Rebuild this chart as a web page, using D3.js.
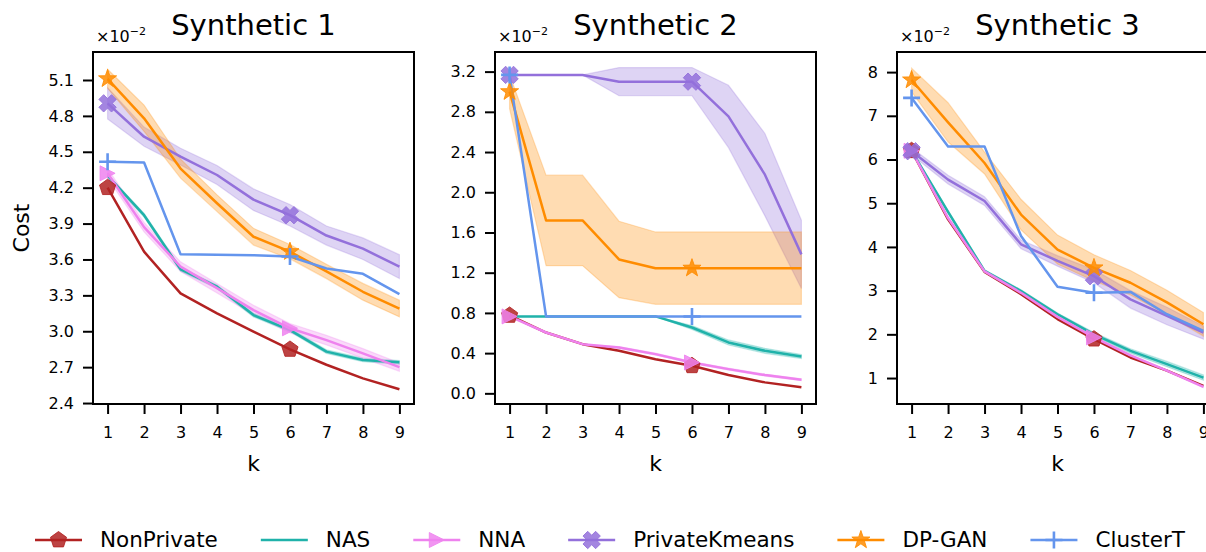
<!DOCTYPE html>
<html><head><meta charset="utf-8">
<script src="https://cdn.jsdelivr.net/npm/d3@7"></script>
<style>body{margin:0;background:#fff} svg{display:block;font-family:"DejaVu Sans",sans-serif}</style>
</head><body><svg id="chart" width="1206" height="552"></svg>
<script>
// ---------- data ----------
const kValues = [1,2,3,4,5,6,7,8,9];
const panelTitles = ["Synthetic 1","Synthetic 2","Synthetic 3"];
const seriesNames = ["NonPrivate","NAS","NNA","PrivateKmeans","DP-GAN","ClusterT"];
const markerIndices = [0,5];

// Synthetic 1 (x1e-2)
const syn1_NonPrivate    = [4.20,3.665,3.316,3.15,2.996,2.848,2.72,2.606,2.515];
const syn1_NAS           = [4.30,3.97,3.517,3.372,3.135,3.01,2.83,2.76,2.74];
const syn1_NNA           = [4.32,3.87,3.54,3.36,3.177,3.025,2.926,2.815,2.70];
const syn1_PrivateKmeans = [4.905,4.626,4.459,4.306,4.10,3.97,3.80,3.69,3.54];
const syn1_DPGAN         = [5.11,4.78,4.36,4.07,3.79,3.665,3.50,3.33,3.19];
const syn1_ClusterT      = [4.417,4.41,3.643,3.64,3.635,3.625,3.525,3.48,3.31];
const syn1_NAS_err           = [0.01,0.015,0.015,0.015,0.015,0.015,0.015,0.015,0.015];
const syn1_NNA_err           = [0.04,0.04,0.04,0.04,0.04,0.04,0.04,0.04,0.035];
const syn1_PrivateKmeans_err = [0.13,0.08,0.07,0.08,0.09,0.09,0.08,0.09,0.10];
const syn1_DPGAN_err         = [0.08,0.11,0.08,0.07,0.07,0.06,0.06,0.07,0.07];

// Synthetic 2 (x1e-2)
const syn2_NonPrivate    = [0.775,0.605,0.489,0.423,0.34,0.274,0.182,0.109,0.06];
const syn2_NAS           = [0.765,0.765,0.765,0.765,0.765,0.655,0.506,0.423,0.367];
const syn2_NNA           = [0.765,0.605,0.489,0.456,0.39,0.307,0.241,0.182,0.136];
const syn2_PrivateKmeans = [3.167,3.167,3.167,3.10,3.10,3.10,2.754,2.175,1.382];
const syn2_DPGAN         = [3.0,1.72,1.72,1.332,1.245,1.245,1.245,1.245,1.245];
const syn2_ClusterT      = [3.167,0.765,0.765,0.765,0.765,0.765,0.765,0.765,0.765];
const syn2_NAS_err           = [0,0,0,0,0,0.02,0.025,0.025,0.02];
const syn2_NNA_err           = [0,0,0,0.01,0.01,0.01,0.01,0.01,0.01];
const syn2_PrivateKmeans_err = [0,0,0,0.14,0.14,0.14,0.31,0.41,0.34];
const syn2_DPGAN_err         = [0.17,0.45,0.45,0.38,0.36,0.36,0.36,0.36,0.36];

// Synthetic 3 (x1e-2)
const syn3_NonPrivate    = [6.2,4.63,3.43,2.92,2.35,1.89,1.47,1.17,0.82];
const syn3_NAS           = [6.2,4.8,3.45,2.99,2.46,2.0,1.62,1.32,1.01];
const syn3_NNA           = [6.2,4.66,3.44,2.95,2.40,1.93,1.52,1.17,0.80];
const syn3_PrivateKmeans = [6.19,5.54,5.05,4.06,3.68,3.33,2.80,2.42,2.04];
const syn3_DPGAN         = [7.82,6.85,5.92,4.74,3.94,3.52,3.18,2.73,2.23];
const syn3_ClusterT      = [7.41,6.30,6.30,4.25,3.09,2.95,2.97,2.46,2.08];
const syn3_NAS_err           = [0,0.03,0.03,0.03,0.03,0.04,0.05,0.06,0.06];
const syn3_NNA_err           = [0,0.02,0.02,0.02,0.02,0.02,0.02,0.02,0.02];
const syn3_PrivateKmeans_err = [0.08,0.10,0.10,0.10,0.12,0.15,0.20,0.20,0.15];
const syn3_DPGAN_err         = [0.27,0.45,0.25,0.35,0.33,0.30,0.28,0.28,0.27];

const syn1_ticks = [2.4,2.7,3.0,3.3,3.6,3.9,4.2,4.5,4.8,5.1];
const syn2_ticks = [0.0,0.4,0.8,1.2,1.6,2.0,2.4,2.8,3.2];
const syn3_ticks = [1,2,3,4,5,6,7,8];
const offsetLabel = ["×10","−2"];

// ---------- styles ----------
const seriesStyle = {
  "NonPrivate":    {color:"#b22222", marker:"pentagon"},
  "NAS":           {color:"#20b2aa", marker:null},
  "NNA":           {color:"#ee82ee", marker:"triright"},
  "PrivateKmeans": {color:"#9370db", marker:"xfilled"},
  "DP-GAN":        {color:"#ff8c00", marker:"star"},
  "ClusterT":      {color:"#6495ed", marker:"plus"}
};

const panels = [
  {title:panelTitles[0], left:93, domain:[2.392,5.334], ticks:syn1_ticks, fmt:d3.format(".1f"),
   vals:[syn1_NonPrivate,syn1_NAS,syn1_NNA,syn1_PrivateKmeans,syn1_DPGAN,syn1_ClusterT],
   errs:[null,syn1_NAS_err,syn1_NNA_err,syn1_PrivateKmeans_err,syn1_DPGAN_err,null]},
  {title:panelTitles[1], left:495, domain:[-0.106,3.395], ticks:syn2_ticks, fmt:d3.format(".1f"),
   vals:[syn2_NonPrivate,syn2_NAS,syn2_NNA,syn2_PrivateKmeans,syn2_DPGAN,syn2_ClusterT],
   errs:[null,syn2_NAS_err,syn2_NNA_err,syn2_PrivateKmeans_err,syn2_DPGAN_err,null]},
  {title:panelTitles[2], left:897, domain:[0.406,8.46], ticks:syn3_ticks, fmt:d3.format("d"),
   vals:[syn3_NonPrivate,syn3_NAS,syn3_NNA,syn3_PrivateKmeans,syn3_DPGAN,syn3_ClusterT],
   errs:[null,syn3_NAS_err,syn3_NNA_err,syn3_PrivateKmeans_err,syn3_DPGAN_err,null]}
];

const PW = 321, TOP = 52, BOTTOM = 404;
const svg = d3.select("#chart");

function shapeD(type){
  const poly = pts => "M"+pts.map(p=>p[0].toFixed(2)+","+p[1].toFixed(2)).join("L")+"Z";
  if(type==="pentagon"){const r=8.5;return poly(d3.range(5).map(i=>{const a=(-90+72*i)*Math.PI/180;return [r*Math.cos(a),r*Math.sin(a)];}));}
  if(type==="triright"){const r=7.5;return poly([[r,0],[-r,-r],[-r,r]]);}
  if(type==="star"){const R=9.5,ri=3.8;return poly(d3.range(10).map(i=>{const a=(-90+36*i)*Math.PI/180;const rr=i%2?ri:R;return [rr*Math.cos(a),rr*Math.sin(a)];}));}
  if(type==="xfilled"){const r=8.5,w=3.2;const base=[[w,w],[w,r],[-w,r],[-w,w],[-r,w],[-r,-w],[-w,-w],[-w,-r],[w,-r],[w,-w],[r,-w],[r,w]];
    const c=Math.SQRT1_2;return poly(base.map(p=>[(p[0]-p[1])*c*1.05,(p[0]+p[1])*c*1.05]));}
  if(type==="plus"){const r=8.5;return `M${-r},0H${r}M0,${-r}V${r}`;}
  return "";
}
function drawMarker(g, type, color, x, y){
  const p = g.append("path").attr("d", shapeD(type)).attr("transform",`translate(${x},${y})`);
  if(type==="plus") p.attr("fill","none").attr("stroke",color).attr("stroke-width",2.6);
  else p.attr("fill",color).attr("fill-opacity",0.85).attr("stroke",color).attr("stroke-opacity",0.85).attr("stroke-width",1);
}

panels.forEach((P,pi)=>{
  const x = d3.scaleLinear().domain([0.6,9.4]).range([P.left, P.left+PW]);
  const y = d3.scaleLinear().domain(P.domain).range([BOTTOM, TOP]);
  const clipId = "clip"+pi;
  svg.append("clipPath").attr("id",clipId).append("rect").attr("x",P.left).attr("y",TOP).attr("width",PW).attr("height",BOTTOM-TOP);
  const plot = svg.append("g").attr("clip-path",`url(#${clipId})`);

  // bands (below lines)
  seriesNames.forEach((name,si)=>{
    const e = P.errs[si]; if(!e) return;
    const col = seriesStyle[name].color;
    const area = d3.area().x((d,i)=>x(kValues[i])).y0((d,i)=>y(d-e[i])).y1((d,i)=>y(d+e[i]));
    plot.append("path").datum(P.vals[si]).attr("d",area)
      .attr("fill",col).attr("fill-opacity",0.3).attr("stroke",col).attr("stroke-opacity",0.25).attr("stroke-width",1.2);
  });
  // lines
  seriesNames.forEach((name,si)=>{
    const st = seriesStyle[name];
    const line = d3.line().x((d,i)=>x(kValues[i])).y(d=>y(d));
    plot.append("path").datum(P.vals[si]).attr("d",line)
      .attr("fill","none").attr("stroke",st.color).attr("stroke-width",2.5).attr("stroke-linejoin","round");
  });
  // markers
  seriesNames.forEach((name,si)=>{
    const st = seriesStyle[name];
    if(!st.marker) return;
    markerIndices.forEach(i=>drawMarker(svg, st.marker, st.color, x(kValues[i]), y(P.vals[si][i])));
  });

  // axes
  const xa = svg.append("g").attr("transform",`translate(0,${BOTTOM})`)
    .call(d3.axisBottom(x).tickValues(kValues).tickSize(10).tickPadding(12.5).tickFormat(d3.format("d")));
  const ya = svg.append("g").attr("transform",`translate(${P.left},0)`)
    .call(d3.axisLeft(y).tickValues(P.ticks).tickSize(10).tickPadding(9).tickFormat(P.fmt));
  [xa,ya].forEach(a=>{
    a.select(".domain").remove();
    a.selectAll(".tick line").attr("stroke","#000").attr("stroke-width",2);
    a.selectAll(".tick text").attr("font-size",16).attr("fill","#000").attr("font-family","DejaVu Sans");
  });
  // spines
  svg.append("rect").attr("x",P.left).attr("y",TOP).attr("width",PW).attr("height",BOTTOM-TOP)
    .attr("fill","none").attr("stroke","#000").attr("stroke-width",2);

  // title
  svg.append("text").attr("x",P.left+PW/2).attr("y",35).attr("text-anchor","middle")
    .attr("font-size",29).text(P.title);
  // offset text
  const ot = svg.append("text").attr("x",P.left+3).attr("y",42).attr("font-size",16);
  ot.append("tspan").text(offsetLabel[0]);
  ot.append("tspan").attr("font-size",11).attr("dy",-7).text(offsetLabel[1]);
  // x label
  svg.append("text").attr("x",P.left+PW/2).attr("y",471).attr("text-anchor","middle").attr("font-size",22).text("k");
  if(pi===0){
    svg.append("text").attr("transform",`translate(29,${(TOP+BOTTOM)/2}) rotate(-90)`)
      .attr("text-anchor","middle").attr("font-size",22).text("Cost");
  }
});

// legend
let lx = 35; const ly = 540;
const leg = svg.append("g");
seriesNames.forEach(name=>{
  const st = seriesStyle[name];
  leg.append("line").attr("x1",lx).attr("x2",lx+47).attr("y1",ly).attr("y2",ly)
    .attr("stroke",st.color).attr("stroke-width",2.5);
  if(st.marker) drawMarker(leg, st.marker, st.color, lx+23.5, ly);
  const t = leg.append("text").attr("x",lx+65).attr("y",ly+6.8).attr("font-size",21.5).text(name);
  lx = lx + 65 + t.node().getComputedTextLength() + 43;
});
</script></body></html>
